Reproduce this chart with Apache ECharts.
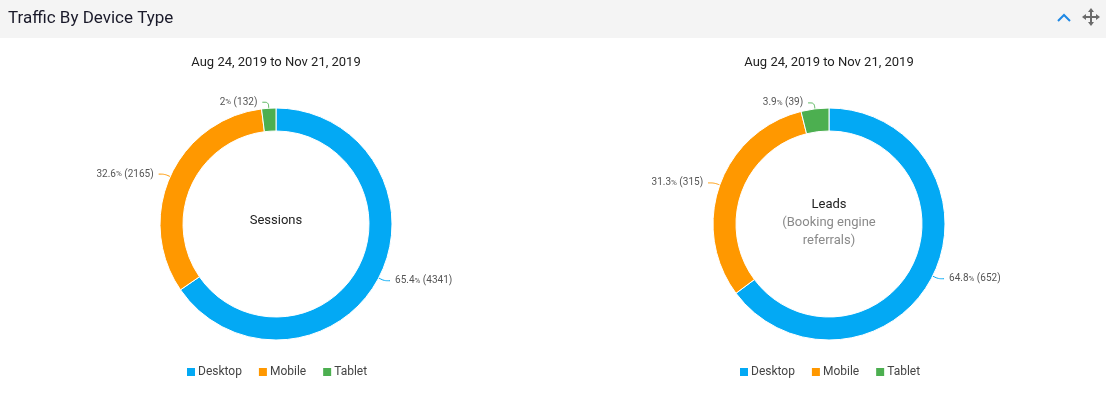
<!DOCTYPE html>
<html>
<head>
<meta charset="utf-8">
<script src="https://cdn.jsdelivr.net/npm/echarts@6/dist/echarts.min.js"></script>
<style>
html,body{margin:0;padding:0;background:#fff;}
#chart{width:1106px;height:411px;}
</style>
</head>
<body>
<div id="chart"></div>
<script>
var categories = ['Desktop', 'Mobile', 'Tablet'];
var sessionsValues = [4341, 2165, 132];
var leadsValues = [652, 315, 39];
var colors = ['#03A9F4', '#FF9800', '#4CAF50'];
var dateRange = 'Aug 24, 2019 to Nov 21, 2019';
var chartTitle = 'Traffic By Device Type';

var FONT = 'Roboto, "Noto Sans", sans-serif';

function toData(vals) {
  return categories.map(function (c, i) { return { name: c, value: vals[i] }; });
}
function fmtLabel(p) {
  var pct = Math.round(p.percent * 10) / 10;
  return '{v|' + pct + '}{p|%}{v| (' + p.value + ')}';
}

function pieSeries(name, center, vals) {
  return {
    type: 'pie',
    name: name,
    center: center,
    radius: [93, 116],
    startAngle: 90,
    clockwise: true,
    avoidLabelOverlap: true,
    itemStyle: { borderColor: '#fff', borderWidth: 1 },
    label: {
      show: true,
      position: 'outside',
      formatter: fmtLabel,
      color: '#555',
      fontFamily: FONT,
      rich: {
        v: { fontSize: 10, color: '#555', fontFamily: FONT },
        p: { fontSize: 8, color: '#555', fontFamily: FONT }
      }
    },
    labelLine: { show: true, length: 6, length2: 6, smooth: true, lineStyle: { width: 1 } },
    emphasis: { scale: false },
    data: toData(vals)
  };
}

var legendCommon = {
  data: categories,
  icon: 'rect',
  itemWidth: 10,
  itemHeight: 10,
  itemGap: 15,
  top: 366,
  padding: 0,
  textStyle: { fontSize: 12, color: '#444', fontFamily: FONT, padding: [0, 0, 0, -3] }
};

var chart = echarts.init(document.getElementById('chart'));
chart.setOption({
  color: colors,
  animation: false,
  title: [
    { text: dateRange, left: 276, top: 56, textAlign: 'center', padding: 0,
      textStyle: { fontSize: 13, fontWeight: 'normal', color: '#222', fontFamily: FONT } },
    { text: dateRange, left: 829, top: 56, textAlign: 'center', padding: 0,
      textStyle: { fontSize: 13, fontWeight: 'normal', color: '#222', fontFamily: FONT } }
  ],
  legend: [
    Object.assign({}, legendCommon, { left: 185 }),
    Object.assign({}, legendCommon, { left: 738 })
  ],
  graphic: [
    { type: 'rect', left: 0, top: 0, z: -10, shape: { width: 1106, height: 38 },
      style: { fill: '#f4f4f4' } },
    { type: 'text', left: 8, top: 10,
      style: { text: chartTitle, fontSize: 17, fill: '#1a1a2a', fontFamily: FONT } },
    { type: 'polyline', shape: { points: [[1058, 21], [1064, 15], [1070, 21]] },
      style: { stroke: '#1E88E5', lineWidth: 2, fill: null } },
    { type: 'group', children: [
      { type: 'line', shape: { x1: 1084, y1: 17, x2: 1098, y2: 17 }, style: { stroke: '#6b6b6b', lineWidth: 2 } },
      { type: 'line', shape: { x1: 1091, y1: 10, x2: 1091, y2: 24 }, style: { stroke: '#6b6b6b', lineWidth: 2 } },
      { type: 'polygon', shape: { points: [[1091, 8], [1088, 12], [1094, 12]] }, style: { fill: '#6b6b6b' } },
      { type: 'polygon', shape: { points: [[1091, 26], [1088, 22], [1094, 22]] }, style: { fill: '#6b6b6b' } },
      { type: 'polygon', shape: { points: [[1082, 17], [1086, 14], [1086, 20]] }, style: { fill: '#6b6b6b' } },
      { type: 'polygon', shape: { points: [[1100, 17], [1096, 14], [1096, 20]] }, style: { fill: '#6b6b6b' } }
    ]},
    { type: 'text', x: 276, y: 221,
      style: { text: 'Sessions', fontSize: 13, fill: '#222', fontFamily: FONT,
               align: 'center', verticalAlign: 'middle' } },
    { type: 'text', x: 829, y: 205,
      style: { text: 'Leads', fontSize: 13, fill: '#222', fontFamily: FONT,
               align: 'center', verticalAlign: 'middle' } },
    { type: 'text', x: 829, y: 232,
      style: { text: '(Booking engine\nreferrals)', fontSize: 13, lineHeight: 18, fill: '#8a8a8a', fontFamily: FONT,
               align: 'center', verticalAlign: 'middle' } }
  ],
  series: [
    pieSeries('Sessions', [276, 224], sessionsValues),
    pieSeries('Leads', [829, 224], leadsValues)
  ]
});
</script>
</body>
</html>
